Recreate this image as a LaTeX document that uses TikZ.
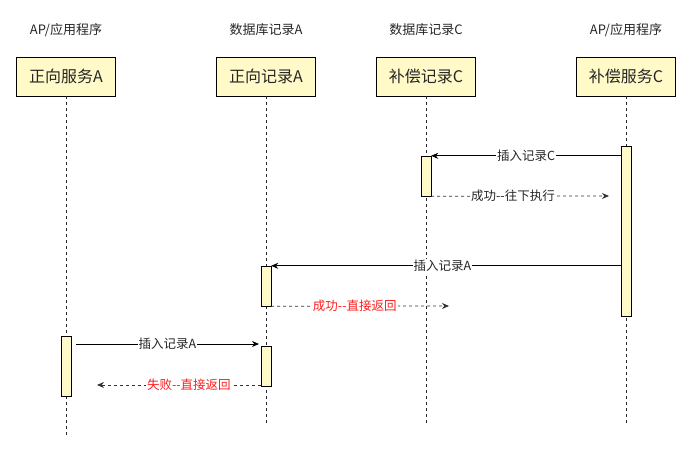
\documentclass[tikz,border=0pt]{standalone}
\usepackage{fontspec}
\setmainfont{Liberation Sans}
\newfontfamily\cjk{Noto Sans CJK SC}
\usetikzlibrary{arrows.meta}
\definecolor{boxfill}{RGB}{255,250,200}
\definecolor{msgred}{RGB}{255,30,30}
\tikzset{
  hdr/.style={font=\cjk\fontsize{13}{15}\selectfont, text=black!85, inner sep=1pt},
  actor/.style={draw=black, fill=boxfill, minimum width=99pt, minimum height=39pt, inner sep=0pt, font=\cjk\fontsize{16}{18}\selectfont, text=black!85},
  bar/.style={draw=black, fill=boxfill, minimum width=10pt, inner sep=0pt},
  life/.style={draw=black!85, dash pattern=on 3pt off 3pt, line width=0.8pt},
  msg/.style={draw=black, line width=0.8pt, -{Stealth[length=7pt,width=6pt]}},
  ret/.style={draw=black!80, line width=0.8pt, dash pattern=on 3pt off 3pt, -{Stealth[length=7pt,width=6pt]}},
  lbl/.style={fill=white, inner sep=1pt, font=\cjk\fontsize{12.5}{14}\selectfont, text=black!85},
  rlbl/.style={lbl, text=msgred},
}
\begin{document}
\begin{tikzpicture}[x=1pt,y=-1pt]
\useasboundingbox (0,0) rectangle (693,454);
% headers
\node[hdr] (h1) at (66,30) {AP/应用程序};
\node[hdr] (h2) at (266,30) {数据库记录A};
\node[hdr] (h3) at (426,30) {数据库记录C};
\node[hdr] (h4) at (626,30) {AP/应用程序};
% actors
\node[actor] (a1) at (66,76.5) {正向服务A};
\node[actor] (a2) at (266,76.5) {正向记录A};
\node[actor] (a3) at (426,76.5) {补偿记录C};
\node[actor] (a4) at (626,76.5) {补偿服务C};
% lifeline ends
\coordinate (e1) at (66,436);
\coordinate (e2) at (266,426);
\coordinate (e3) at (426,426);
\coordinate (e4) at (626,426);
\draw[life] (a1) -- (e1);
\draw[life] (a2) -- (e2);
\draw[life] (a3) -- (e3);
\draw[life] (a4) -- (e4);
% activation bars
\node[bar, minimum height=40pt] (cbar) at (426,176) {};
\node[bar, minimum height=170pt] (compbar) at (626,231) {};
\node[bar, minimum height=40pt] (abar1) at (266,286) {};
\node[bar, minimum height=60pt] (apbar) at (66,366) {};
\node[bar, minimum height=40pt] (abar2) at (266,366) {};
% free ends
\coordinate (r1) at (609,196);
\coordinate (r2) at (449,306);
\coordinate (s3) at (76,344);
\coordinate (t3) at (259,344);
\coordinate (r3) at (97,385);
\coordinate (q3) at (261,385);
% messages
\draw[msg] (cbar.north east -| compbar.west) -- node[lbl] {插入记录C} (cbar.north east);
\draw[ret] (cbar.south east) -- node[lbl, pos=0.46] {成功--往下执行} (r1);
\draw[msg] (abar1.north east -| compbar.west) -- node[lbl, pos=0.51] {插入记录A} (abar1.north east);
\draw[ret] (abar1.south east) -- node[rlbl, pos=0.47] {成功--直接返回} (r2);
\draw[msg] (s3) -- node[lbl] {插入记录A} (t3);
\draw[ret] (q3) -- node[rlbl, pos=0.44] {失败--直接返回} (r3);
\end{tikzpicture}
\end{document}
